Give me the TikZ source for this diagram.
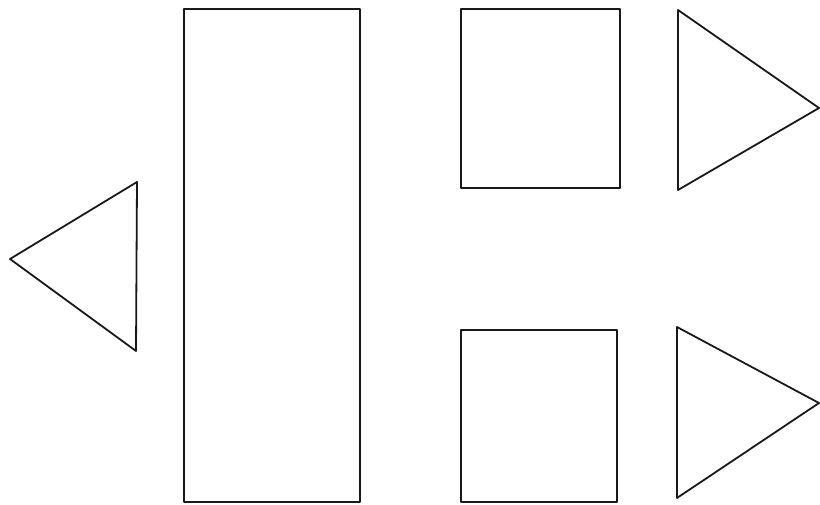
\documentclass[tikz,border=0pt]{standalone}
\begin{document}
\begin{tikzpicture}[x=1pt,y=-1pt,
  shapeline/.style={draw=black!90,line width=1.8pt,line join=round}]
\useasboundingbox (0,0) rectangle (820,505);
% left triangle
\draw[shapeline] (10,259) -- (137,182) -- (136,351) -- cycle;
% tall rectangle
\draw[shapeline] (184,9) rectangle (360,502);
% squares
\draw[shapeline] (461,9) rectangle (620,188);
\draw[shapeline] (461,330) rectangle (617,502);
% right triangles
\draw[shapeline] (678,10) -- (819,108) -- (678,190) -- cycle;
\draw[shapeline] (677,327) -- (819,403) -- (677,498) -- cycle;
\end{tikzpicture}
\end{document}
